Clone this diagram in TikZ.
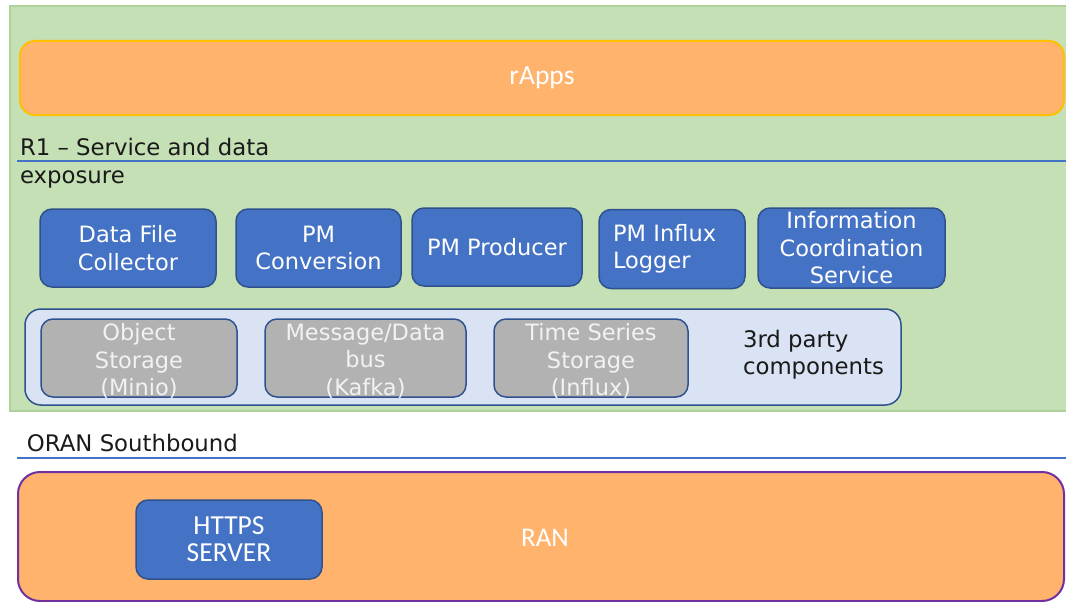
\documentclass[tikz,border=0pt]{standalone}
\usepackage{fontspec}
\setmainfont{DejaVu Sans}
\newfontfamily\calfont{Carlito}
\definecolor{bggreen}{HTML}{C5E0B4}
\definecolor{greenline}{HTML}{AED39A}
\definecolor{orangefill}{HTML}{FFB36C}
\definecolor{yellowline}{HTML}{FFC000}
\definecolor{bluefill}{HTML}{4472C4}
\definecolor{darkblue}{HTML}{2F528F}
\definecolor{lightblue}{HTML}{DAE3F3}
\definecolor{grayfill}{HTML}{B2B2B2}
\definecolor{purpleline}{HTML}{7030A0}
\definecolor{linkblue}{HTML}{4472C4}
\definecolor{txtdark}{HTML}{1A1A1A}
\definecolor{graytxt}{HTML}{F2F2F2}
\begin{document}
\begin{tikzpicture}[x=1pt,y=-1pt,
  every node/.style={inner sep=0pt, outer sep=0pt},
  layerbox/.style={draw=greenline, line width=1.5pt, fill=bggreen},
  appsbox/.style={draw=yellowline, line width=2pt, fill=orangefill, rounded corners=15pt,
    font=\calfont\fontsize{27.5}{30}\selectfont, text=white},
  ranbox/.style={draw=purpleline, line width=2pt, fill=orangefill, rounded corners=22pt},
  comp/.style={draw=darkblue, line width=1.5pt, fill=bluefill, rounded corners=12pt,
    text=white, align=center, font=\fontsize{22.5}{27.5}\selectfont},
  thirdbox/.style={draw=darkblue, line width=1.5pt, fill=lightblue, rounded corners=16pt},
  store/.style={draw=darkblue, line width=1.5pt, fill=grayfill, rounded corners=12pt,
    text=graytxt, align=center, font=\fontsize{22.5}{27.5}\selectfont},
  sep/.style={draw=linkblue, line width=1.8pt},
  lbl/.style={text=txtdark, align=left, font=\fontsize{22.8}{28}\selectfont}
]
\useasboundingbox (0,0) rectangle (1066,602);
\fill[white] (0,0) rectangle (1066,602);

% R1 layer background
\path[layerbox] (10,6) rectangle (1068,411);

% rApps
\node[appsbox, minimum width=1044pt, minimum height=74pt] (rapps) at (542,78) {rApps};

% R1 label and separator
\node[lbl, anchor=north west] (r1lbl) at (20,138) {R1 -- Service and data\\exposure};
\coordinate (r1a) at (17,161);
\coordinate (r1b) at (1066,161);
\draw[sep] (r1a) -- (r1b);

% Components
\node[comp, minimum width=176pt, minimum height=78pt] (dfc) at (128,248) {Data File\\Collector};
\node[comp, minimum width=165pt, minimum height=78pt] (pmc) at (318.5,248) {PM\\Conversion};
\node[comp, minimum width=170pt, minimum height=78pt] (pmp) at (497,247) {PM Producer};
\node[comp, minimum width=146pt, minimum height=79pt, inner xsep=14pt, text width=118pt, align=left] (pml) at (672,249) {PM Influx\\Logger};
\node[comp, minimum width=187pt, minimum height=80pt] (ics) at (851.5,248) {Information\\Coordination\\Service};

% 3rd party container
\node[thirdbox, minimum width=876pt, minimum height=96pt] (third) at (463,357) {};
\node[store, minimum width=196pt, minimum height=78pt] (obj) at (139,358) {};
\node[store, minimum width=201pt, minimum height=78pt] (msg) at (365.5,358) {};
\node[store, minimum width=194pt, minimum height=78pt] (tss) at (591,358) {};
\node[store, draw=none, fill=none] (objt) at (139,361) {Object\\Storage\\(Minio)};
\node[store, draw=none, fill=none] (msgt) at (365.5,361) {Message/Data\\bus\\(Kafka)};
\node[store, draw=none, fill=none] (tsst) at (591,361) {Time Series\\Storage\\(Influx)};
\node[lbl, anchor=west, font=\fontsize{22.8}{27}\selectfont] (thirdlbl) at (743,355) {3rd party\\components};

% ORAN Southbound
\node[lbl, anchor=west, font=\fontsize{22.8}{26}\selectfont] (oranlbl) at (27,443) {ORAN Southbound};
\coordinate (sba) at (17,458);
\coordinate (sbb) at (1066,458);
\draw[sep] (sba) -- (sbb);

% RAN
\node[ranbox, minimum width=1046pt, minimum height=129pt] (ran) at (541,536.5) {};
\node[text=white, font=\calfont\fontsize{27}{30}\selectfont] (ranlbl) at (545,538) {RAN};
\node[comp, minimum width=186pt, minimum height=79pt, font=\calfont\fontsize{27.5}{27}\selectfont] (https) at (229,539.5) {HTTPS\\SERVER};
\end{tikzpicture}
\end{document}
